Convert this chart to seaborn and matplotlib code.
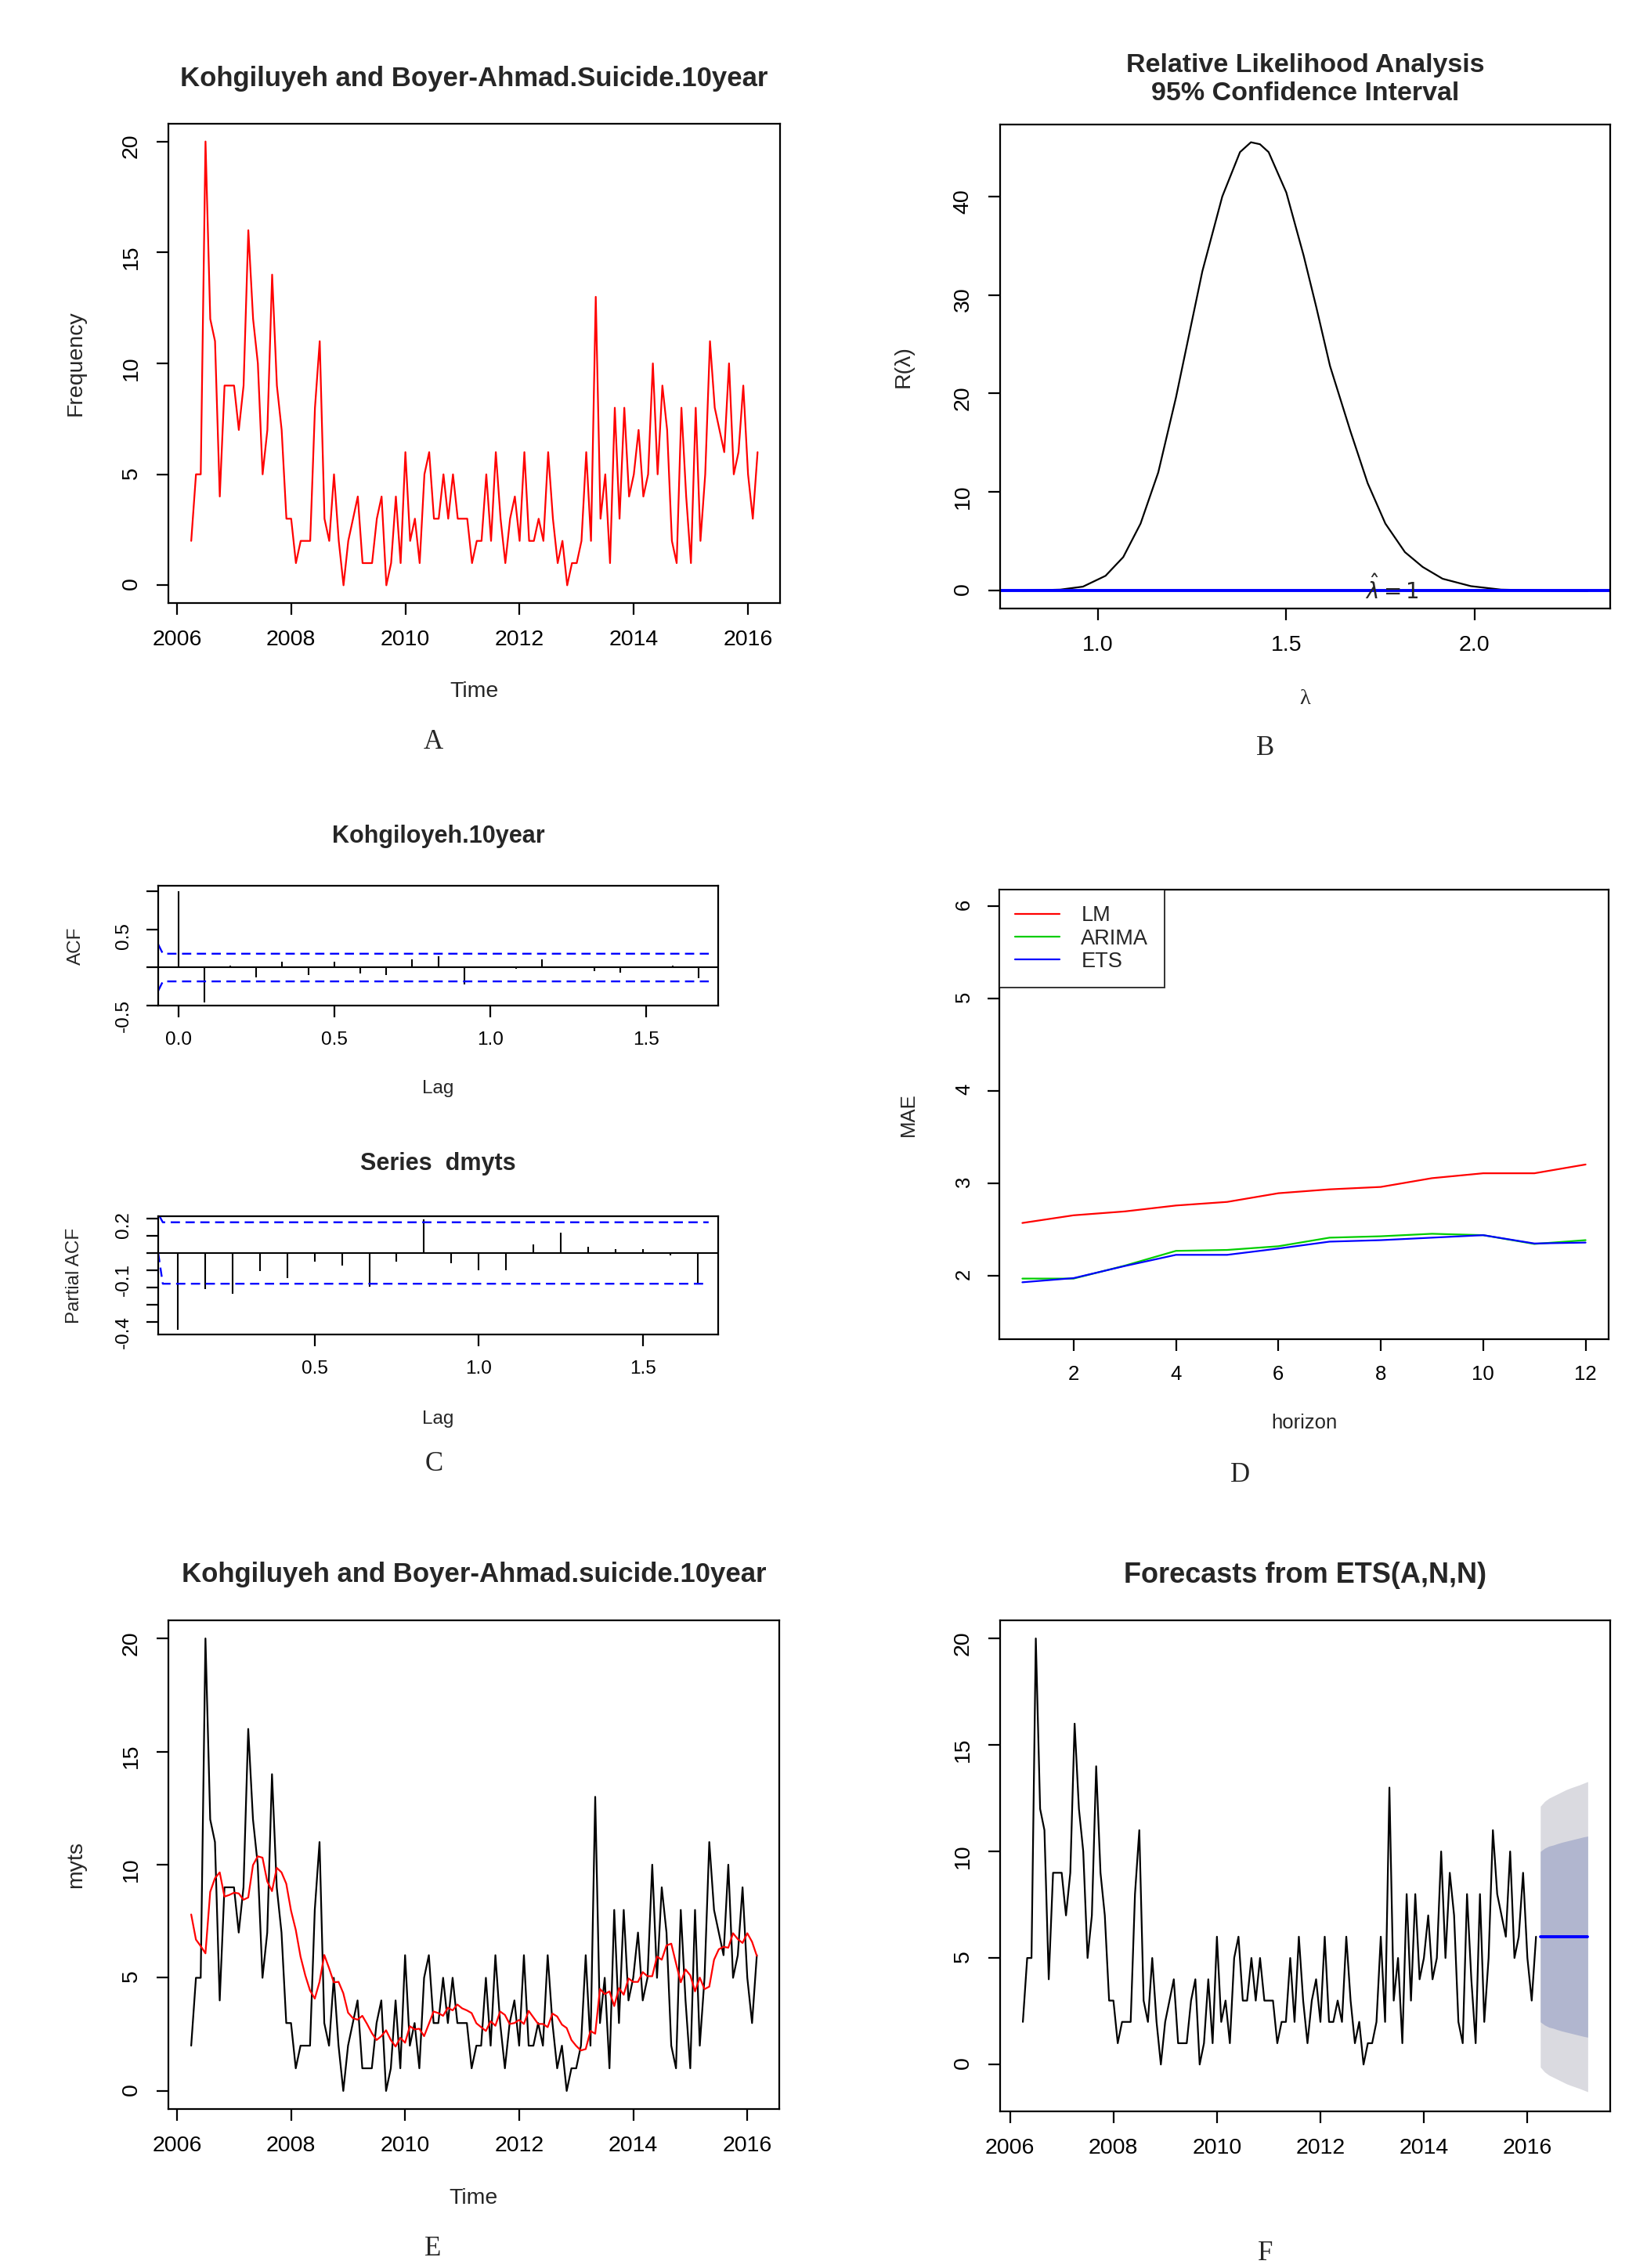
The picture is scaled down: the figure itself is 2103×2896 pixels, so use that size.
import numpy as np
import pandas as pd
import matplotlib.pyplot as plt
import seaborn as sns

# ---- datos ----
# serie mensual de suicidios, abril 2006 - marzo 2016
suicidios = [2, 5, 5, 20, 12, 11, 4, 9, 9, 9,
             7, 9, 16, 12, 10, 5, 7, 14, 9, 7,
             3, 3, 1, 2, 2, 2, 8, 11, 3, 2,
             5, 2, 0, 2, 3, 4, 1, 1, 1, 3,
             4, 0, 1, 4, 1, 6, 2, 3, 1, 5,
             6, 3, 3, 5, 3, 5, 3, 3, 3, 1,
             2, 2, 5, 2, 6, 3, 1, 3, 4, 2,
             6, 2, 2, 3, 2, 6, 3, 1, 2, 0,
             1, 1, 2, 6, 2, 13, 3, 5, 1, 8,
             3, 8, 4, 5, 7, 4, 5, 10, 5, 9,
             7, 2, 1, 8, 4, 1, 8, 2, 5, 11,
             8, 7, 6, 10, 5, 6, 9, 5, 3, 6]
# curva ajustada (rojo) del panel E
ajuste = [7.8, 6.69, 6.4, 6.08, 8.8, 9.4, 9.66, 8.59, 8.66, 8.76,
          8.73, 8.45, 8.55, 9.98, 10.37, 10.31, 9.26, 8.83, 9.86, 9.66,
          9.16, 7.97, 7.12, 5.94, 5.11, 4.44, 4.08, 4.82, 6.01, 5.43,
          4.8, 4.82, 4.32, 3.46, 3.22, 3.15, 3.32, 2.96, 2.56, 2.25,
          2.42, 2.68, 2.25, 1.96, 2.35, 2.13, 2.86, 2.72, 2.75, 2.42,
          2.96, 3.51, 3.44, 3.32, 3.68, 3.56, 3.82, 3.65, 3.56, 3.44,
          2.99, 2.82, 2.65, 3.08, 2.88, 3.51, 3.36, 2.96, 3.0, 3.14,
          2.96, 3.54, 3.25, 2.96, 2.96, 2.82, 3.42, 3.29, 2.93, 2.78,
          2.25, 1.99, 1.79, 1.85, 2.65, 2.53, 4.51, 4.28, 4.4, 3.75,
          4.54, 4.25, 4.97, 4.82, 4.82, 5.25, 5.07, 5.07, 5.94, 5.8,
          6.43, 6.51, 5.64, 4.8, 5.37, 5.11, 4.4, 5.01, 4.5, 4.61,
          5.8, 6.26, 6.37, 6.33, 6.97, 6.71, 6.54, 6.97, 6.59, 5.97]
inicio = 2006.25
tiempo = inicio + np.arange(len(suicidios)) / 12

# panel B: verosimilitud relativa
lam = [0.80, 0.90, 0.96, 1.02, 1.067, 1.113, 1.16, 1.207, 1.242, 1.277, 1.33,
       1.377, 1.406, 1.43, 1.453, 1.50, 1.546, 1.58, 1.616, 1.67, 1.716, 1.763,
       1.815, 1.862, 1.915, 1.99, 2.07, 2.19, 2.30]
r_lam = [0, 0.1, 0.4, 1.5, 3.4, 6.8, 12, 19.6, 26, 32.4, 40,
         44.5, 45.5, 45.3, 44.5, 40.4, 34, 28.7, 22.8, 16.2, 10.9, 6.8,
         3.9, 2.4, 1.2, 0.45, 0.1, 0, -0.05]

# panel C: ACF y PACF
acf_vals = [1.0, -0.455, 0.03, -0.13, 0.08, -0.095, 0.08, -0.075, -0.095, 0.11,
            0.145, -0.22, 0.015, -0.015, 0.11, 0.0, -0.045, -0.065, 0.015, 0.03, -0.14]
pacf_vals = [-0.447, -0.21, -0.237, -0.106, -0.147, -0.052, -0.072, -0.195, -0.052, 0.193,
             -0.06, -0.1, -0.1, 0.05, 0.117, 0.037, 0.024, 0.024, -0.016, -0.175]
ic_acf = 0.182
ic_pacf = 0.178

# panel D: MAE por horizonte
horizonte = list(range(1, 13))
mae_lm = [2.572, 2.655, 2.697, 2.761, 2.80, 2.894, 2.936, 2.962, 3.057, 3.11, 3.11, 3.205]
mae_arima = [1.97, 1.97, 2.11, 2.27, 2.28, 2.32, 2.413, 2.428, 2.455, 2.44, 2.345, 2.386]
mae_ets = [1.93, 1.975, 2.106, 2.227, 2.227, 2.295, 2.37, 2.386, 2.413, 2.44, 2.35, 2.36]

# panel F: pronostico ETS(A,N,N)
t_pron = 2016.25 + np.arange(12) / 12
media = [6.0] * 12
hi95 = [12.12, 12.35, 12.5, 12.6, 12.7, 12.8, 12.9, 12.98, 13.05, 13.12, 13.2, 13.28]
lo95 = [-0.12, -0.35, -0.5, -0.6, -0.7, -0.8, -0.9, -0.98, -1.05, -1.12, -1.2, -1.28]
hi80 = [10.0, 10.15, 10.25, 10.3, 10.37, 10.43, 10.48, 10.53, 10.58, 10.63, 10.68, 10.72]
lo80 = [2.0, 1.85, 1.75, 1.7, 1.63, 1.57, 1.52, 1.47, 1.42, 1.37, 1.32, 1.28]

# ---- estilo ----
sns.set_style("ticks")
plt.rcParams['font.family'] = ['Liberation Sans', 'DejaVu Sans']
plt.rcParams['axes.unicode_minus'] = False
plt.rcParams['axes.linewidth'] = 1.6
plt.rcParams['axes.edgecolor'] = 'black'

W, H = 2103, 2896
fig = plt.figure(figsize=(W / 100, H / 100), dpi=100)


def caja(l, t, r, b, fs=20.5, pad=14):
    ax = fig.add_axes([l / W, 1 - b / H, (r - l) / W, (b - t) / H])
    ax.tick_params(direction='out', length=10.8, width=1.6, pad=pad,
                   labelsize=fs, colors='black')
    ax.tick_params(axis='y', labelrotation=90)
    for s in ax.spines.values():
        s.set_visible(True)
        s.set_linewidth(1.6)
    return ax


def etiquetas(ax, titulo, ty, xl, xy, yl, yx, tfs=25, lfs=20.5):
    if titulo:
        ax.set_title(titulo, fontsize=tfs, fontweight='bold', y=ty, va='center')
    if xl:
        ax.set_xlabel(xl, fontsize=lfs, va='center')
        ax.xaxis.set_label_coords(0.5, xy)
    if yl:
        ax.set_ylabel(yl, fontsize=lfs, va='center', ha='center')
        ax.yaxis.set_label_coords(yx, 0.5)


def letra(x, y, s):
    fig.text(x / W, 1 - y / H, s, fontsize=25, family='Liberation Serif',
             ha='center', va='center')


anios = [2006, 2008, 2010, 2012, 2014, 2016]

# A
ax = caja(215, 158, 996, 770)
sns.lineplot(x=tiempo, y=suicidios, ax=ax, color='#FF0000', linewidth=1.6)
ax.set_xlim(2005.85, 2016.56)
ax.set_ylim(-0.8, 20.8)
ax.set_xticks(anios)
ax.set_yticks([0, 5, 10, 15, 20])
etiquetas(ax, 'Kohgiluyeh and Boyer-Ahmad.Suicide.10year', 1.081,
          'Time', -0.1846, 'Frequency', -0.151)
letra(553, 948, 'A')

# B
ax = caja(1277, 159, 2056, 777)
sns.lineplot(x=lam, y=r_lam, ax=ax, color='black', linewidth=1.6)
ax.axhline(0, color='#0000FF', linewidth=2.8)
ax.text(1.78, -0.9, r'$\hat{\lambda} = 1$', fontsize=20, ha='center', va='baseline')
ax.set_xlim(0.74, 2.36)
ax.set_ylim(-1.82, 47.3)
ax.set_xticks([1.0, 1.5, 2.0])
ax.set_xticklabels(['1.0', '1.5', '2.0'])
ax.set_yticks([0, 10, 20, 30, 40])
ax.set_title('Relative Likelihood Analysis\n95% Confidence Interval', fontsize=24.5,
             fontweight='bold', y=1.08, va='center', linespacing=1.2)
etiquetas(ax, None, 0, 'λ', -0.187, 'R(λ)', -0.159)
ax.xaxis.label.set_family('Liberation Serif')
letra(1616, 955, 'B')

# C - ACF
lags_acf = np.arange(len(acf_vals)) / 12
ax = caja(202, 1131, 917, 1284, fs=17.5, pad=13)
ax.vlines(lags_acf, 0, acf_vals, color='black', linewidth=1.5)
ax.axhline(0, color='black', linewidth=1.5)
for sg in (1, -1):
    ax.plot([-0.064, -0.049, 1.70], [sg * 0.305, sg * ic_acf, sg * ic_acf],
            color='#0000FF', linewidth=1.7, linestyle=(0, (5, 3)))
ax.set_xlim(-0.064, 1.73)
ax.set_ylim(-0.5, 1.076)
ax.set_xticks([0, 0.5, 1.0, 1.5])
ax.set_xticklabels(['0.0', '0.5', '1.0', '1.5'])
ax.set_yticks([-0.5, 0, 0.5, 1.0])
ax.set_yticklabels(['-0.5', '', '0.5', ''])
etiquetas(ax, 'Kohgiloyeh.10year', 1.36, 'Lag', -0.693, 'ACF', -0.1476,
          tfs=22, lfs=17.5)

# C - PACF
lags_pacf = np.arange(1, len(pacf_vals) + 1) / 12
ax = caja(202, 1553, 917, 1704, fs=17.5, pad=13)
ax.vlines(lags_pacf, 0, pacf_vals, color='black', linewidth=1.5)
ax.axhline(0, color='black', linewidth=1.5)
ax.plot([0.028, 0.038, 1.70], [0.213, ic_pacf, ic_pacf],
        color='#0000FF', linewidth=1.7, linestyle=(0, (5, 3)))
ax.plot([0.024, 0.038, 1.70], [0.0, -ic_pacf, -ic_pacf],
        color='#0000FF', linewidth=1.7, linestyle=(0, (5, 3)))
ax.set_xlim(0.024, 1.729)
ax.set_ylim(-0.472, 0.213)
ax.set_xticks([0.5, 1.0, 1.5])
ax.set_xticklabels(['0.5', '1.0', '1.5'])
ax.set_yticks([-0.4, -0.3, -0.2, -0.1, 0.0, 0.1, 0.2])
ax.set_yticklabels(['-0.4', '', '', '-0.1', '', '', '0.2'])
etiquetas(ax, 'Series  dmyts', 1.39, 'Lag', -0.715, 'Partial ACF', -0.1497,
          tfs=22, lfs=17.5)
letra(554, 1870, 'C')

# D
ax = caja(1276, 1136, 2054, 1710, fs=18.5, pad=13)
sns.lineplot(x=horizonte, y=mae_lm, ax=ax, color='#FF0000', linewidth=1.6, label='LM')
sns.lineplot(x=horizonte, y=mae_arima, ax=ax, color='#00CD00', linewidth=1.6, label='ARIMA')
sns.lineplot(x=horizonte, y=mae_ets, ax=ax, color='#0000FF', linewidth=1.6, label='ETS')
ax.set_xlim(0.55, 12.45)
ax.set_ylim(1.314, 6.18)
ax.set_xticks([2, 4, 6, 8, 10, 12])
ax.set_yticks([2, 3, 4, 5, 6])
leg = ax.legend(loc='upper left', fontsize=19.5, frameon=True, fancybox=False,
                edgecolor='black', borderaxespad=0, borderpad=0.75,
                handlelength=2.1, handletextpad=1.0, labelspacing=0.12)
leg.get_frame().set_linewidth(1.4)
etiquetas(ax, None, 0, 'horizon', -0.186, 'MAE', -0.149, lfs=18.5)
letra(1584, 1883, 'D')

# E
ax = caja(215, 2069, 995, 2693)
sns.lineplot(x=tiempo, y=suicidios, ax=ax, color='black', linewidth=1.6)
sns.lineplot(x=tiempo, y=ajuste, ax=ax, color='#FF0000', linewidth=1.6)
ax.set_xlim(2005.85, 2016.56)
ax.set_ylim(-0.8, 20.8)
ax.set_xticks(anios)
ax.set_yticks([0, 5, 10, 15, 20])
etiquetas(ax, 'Kohgiluyeh and Boyer-Ahmad.suicide.10year', 1.08,
          'Time', -0.183, 'myts', -0.151)
letra(553, 2872, 'E')

# F
ax = caja(1277, 2069, 2056, 2696)
ax.fill_between(t_pron, lo95, hi95, color='#DADAE0', linewidth=0)
ax.fill_between(t_pron, lo80, hi80, color='#B1B6CF', linewidth=0)
sns.lineplot(x=tiempo, y=suicidios, ax=ax, color='black', linewidth=1.6)
sns.lineplot(x=t_pron, y=media, ax=ax, color='#0000FF', linewidth=2.8)
ax.set_xlim(2005.81, 2017.6)
ax.set_ylim(-2.2, 20.85)
ax.set_xticks(anios)
ax.set_yticks([0, 5, 10, 15, 20])
etiquetas(ax, 'Forecasts from ETS(A,N,N)', 1.079, None, 0, None, 0, tfs=26)
letra(1616, 2878, 'F')

fig.savefig("out.png", dpi=100)
